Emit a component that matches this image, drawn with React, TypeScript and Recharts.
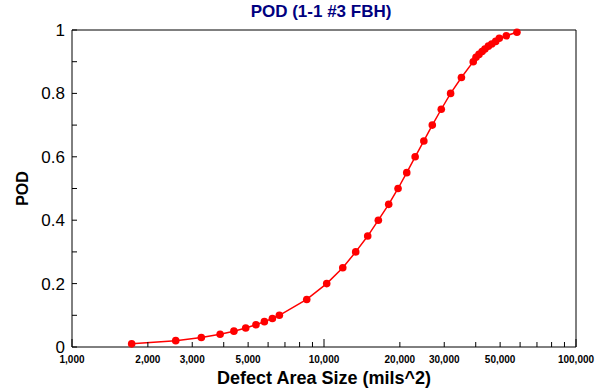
import * as React from "react";
import { LineChart, Line, XAxis, YAxis, ReferenceLine } from "recharts";

// POD curve readings (defect area in mils^2, probability of detection)
const defectArea = [
  1725, 2580, 3260, 3870, 4390, 4890, 5370, 5800, 6240, 6650, 8540, 10250,
  11870, 13360, 14910, 16430, 18060, 19670, 21300, 23000, 24900, 26900, 29200,
  31800, 35100, 39100, 40100, 41200, 42400, 43500, 44900, 46300, 48000, 49600,
  52900, 58300,
];
const podValues = [
  0.01, 0.02, 0.03, 0.04, 0.05, 0.06, 0.07, 0.08, 0.09, 0.1, 0.15, 0.2, 0.25,
  0.3, 0.35, 0.4, 0.45, 0.5, 0.55, 0.6, 0.65, 0.7, 0.75, 0.8, 0.85, 0.9, 0.914,
  0.923, 0.932, 0.94, 0.949, 0.956, 0.964, 0.974, 0.982, 0.993,
];

const xTicks = [
  1000, 2000, 3000, 4000, 5000, 6000, 7000, 8000, 9000, 10000, 20000, 30000,
  40000, 50000, 60000, 70000, 80000, 90000, 100000,
];
const xLabeled = [1000, 2000, 3000, 5000, 10000, 20000, 30000, 50000, 100000];
const xDecades = [1000, 10000, 100000];
const yTicks = [0, 0.1, 0.2, 0.3, 0.4, 0.5, 0.6, 0.7, 0.8, 0.9, 1];
const yLabeled = [0, 0.2, 0.4, 0.6, 0.8, 1];

const data = defectArea.map((area, i) => ({ area, pod: podValues[i] }));

const font = "'Liberation Sans', Arial, sans-serif";

function XTick(props: any) {
  const { x, y, payload } = props;
  const v = payload.value;
  const len = xDecades.includes(v) ? 8 : 5;
  return (
    <g>
      <line x1={x} x2={x} y1={y} y2={y - len} stroke="#000" strokeWidth={1} />
      {xLabeled.includes(v) && (
        <text
          x={x}
          y={y + 16}
          textAnchor="middle"
          fontFamily={font}
          fontWeight="bold"
          fontSize={10}
          fill="#000"
        >
          {v.toLocaleString("en-US")}
        </text>
      )}
    </g>
  );
}

function YTick(props: any) {
  const { x, y, payload } = props;
  const v = payload.value;
  return (
    <g>
      <line x1={x} x2={x + 5} y1={y} y2={y} stroke="#000" strokeWidth={1} />
      {yLabeled.includes(v) && (
        <text
          x={x - 7}
          y={y + 6}
          textAnchor="end"
          fontFamily={font}
          fontSize={17}
          fill="#000"
        >
          {String(v)}
        </text>
      )}
    </g>
  );
}

export default function App() {
  return (
    <div style={{ position: "absolute", left: 0, top: 0, width: 604, height: 391, background: "#fff" }}>
      <div
        style={{
          position: "absolute",
          left: 0,
          width: 642,
          top: 2,
          textAlign: "center",
          fontFamily: font,
          fontWeight: "bold",
          fontSize: 17,
          color: "#000080",
        }}
      >
        POD (1-1 #3 FBH)
      </div>
      <LineChart width={604} height={391} data={data} margin={{ top: 30, right: 28, bottom: 0, left: 0 }}>
        <XAxis
          dataKey="area"
          type="number"
          scale="log"
          domain={[1000, 100000]}
          ticks={xTicks}
          interval={0}
          height={44}
          tickSize={0}
          tickMargin={0}
          tickLine={false}
          tick={<XTick />}
          axisLine={{ stroke: "#000" }}
          allowDataOverflow
          label={({ viewBox }: any) => (
            <text
              x={viewBox.x + viewBox.width / 2}
              y={viewBox.y + viewBox.height - 7}
              textAnchor="middle"
              fontFamily={font}
              fontWeight="bold"
              fontSize={18}
              fill="#000"
            >
              Defect Area Size (mils^2)
            </text>
          )}
        />
        <YAxis
          type="number"
          domain={[0, 1]}
          ticks={yTicks}
          interval={0}
          width={72}
          tickSize={0}
          tickMargin={0}
          tickLine={false}
          tick={<YTick />}
          axisLine={{ stroke: "#000" }}
          label={({ viewBox }: any) => (
            <text
              x={28}
              y={viewBox.y + viewBox.height / 2}
              transform={`rotate(-90 28 ${viewBox.y + viewBox.height / 2})`}
              textAnchor="middle"
              fontFamily={font}
              fontWeight="bold"
              fontSize={16}
              fill="#000"
            >
              POD
            </text>
          )}
        />
        <ReferenceLine y={1} stroke="#000" strokeWidth={1} />
        <ReferenceLine x={100000} stroke="#000" strokeWidth={1} />
        <Line
          type="linear"
          dataKey="pod"
          stroke="#ff0000"
          strokeWidth={1.5}
          dot={{ r: 3.8, fill: "#ff0000", stroke: "none" }}
          isAnimationActive={false}
        />
      </LineChart>
    </div>
  );
}
